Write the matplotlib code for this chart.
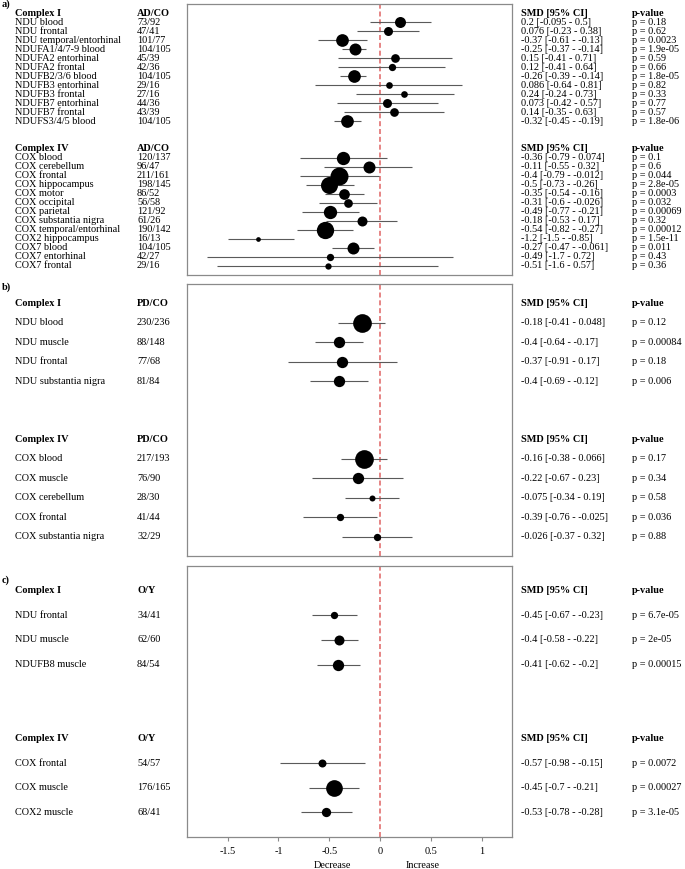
import matplotlib
matplotlib.use("Agg")
import matplotlib.pyplot as plt
import matplotlib.transforms as mtransforms

# ---------------- data ----------------
# Panel a (AD/CO)
a_c1_labels = ["NDU blood", "NDU frontal", "NDU temporal/entorhinal", "NDUFA1/4/7-9 blood",
               "NDUFA2 entorhinal", "NDUFA2 frontal", "NDUFB2/3/6 blood", "NDUFB3 entorhinal",
               "NDUFB3 frontal", "NDUFB7 entorhinal", "NDUFB7 frontal", "NDUFS3/4/5 blood"]
a_c1_n = ["73/92", "47/41", "101/77", "104/105", "45/39", "42/36", "104/105", "29/16",
          "27/16", "44/36", "43/39", "104/105"]
a_c1_smd = [0.2, 0.076, -0.37, -0.25, 0.15, 0.12, -0.26, 0.086, 0.24, 0.073, 0.14, -0.32]
a_c1_lo = [-0.095, -0.23, -0.61, -0.37, -0.41, -0.41, -0.39, -0.64, -0.24, -0.42, -0.35, -0.45]
a_c1_hi = [0.5, 0.38, -0.13, -0.14, 0.71, 0.64, -0.14, 0.81, 0.73, 0.57, 0.63, -0.19]
a_c1_p = [0.18, 0.62, 0.0023, 1.9e-05, 0.59, 0.66, 1.8e-05, 0.82, 0.33, 0.77, 0.57, 1.8e-06]
a_c1_w = [11, 9, 12.7, 12, 8.7, 7.3, 12.7, 6.7, 6.7, 9, 8.7, 12.7]

a_c4_labels = ["COX blood", "COX cerebellum", "COX frontal", "COX hippocampus", "COX motor",
               "COX occipital", "COX parietal", "COX substantia nigra", "COX temporal/entorhinal",
               "COX2 hippocampus", "COX7 blood", "COX7 entorhinal", "COX7 frontal"]
a_c4_n = ["120/137", "96/47", "211/161", "198/145", "86/52", "56/58", "121/92", "61/26",
          "190/142", "16/13", "104/105", "42/27", "29/16"]
a_c4_smd = [-0.36, -0.11, -0.4, -0.5, -0.35, -0.31, -0.49, -0.18, -0.54, -1.2, -0.27, -0.49, -0.51]
a_c4_lo = [-0.79, -0.55, -0.79, -0.73, -0.54, -0.6, -0.77, -0.53, -0.82, -1.5, -0.47, -1.7, -1.6]
a_c4_hi = [0.074, 0.32, -0.012, -0.26, -0.16, -0.026, -0.21, 0.17, -0.27, -0.85, -0.061, 0.72, 0.57]
a_c4_p = [0.1, 0.6, 0.044, 2.8e-05, 0.0003, 0.032, 0.00069, 0.32, 0.00012, 1.5e-11, 0.011, 0.43, 0.36]
a_c4_w = [13.3, 12, 18, 17, 10.7, 8.7, 13.3, 10, 17.3, 4.7, 12, 7.3, 6.3]

# Panel b (PD/CO)
b_c1_labels = ["NDU blood", "NDU muscle", "NDU frontal", "NDU substantia nigra"]
b_c1_n = ["230/236", "88/148", "77/68", "81/84"]
b_c1_smd = [-0.18, -0.4, -0.37, -0.4]
b_c1_lo = [-0.41, -0.64, -0.91, -0.69]
b_c1_hi = [0.048, -0.17, 0.17, -0.12]
b_c1_p = [0.12, 0.00084, 0.18, 0.006]
b_c1_w = [18.7, 11.3, 11.3, 11.3]

b_c4_labels = ["COX blood", "COX muscle", "COX cerebellum", "COX frontal", "COX substantia nigra"]
b_c4_n = ["217/193", "76/90", "28/30", "41/44", "32/29"]
b_c4_smd = [-0.16, -0.22, -0.075, -0.39, -0.026]
b_c4_lo = [-0.38, -0.67, -0.34, -0.76, -0.37]
b_c4_hi = [0.066, 0.23, 0.19, -0.025, 0.32]
b_c4_p = [0.17, 0.34, 0.58, 0.036, 0.88]
b_c4_w = [18.7, 11.3, 6, 7.3, 7.3]

# Panel c (O/Y)
c_c1_labels = ["NDU frontal", "NDU muscle", "NDUFB8 muscle"]
c_c1_n = ["34/41", "62/60", "84/54"]
c_c1_smd = [-0.45, -0.4, -0.41]
c_c1_lo = [-0.67, -0.58, -0.62]
c_c1_hi = [-0.23, -0.22, -0.2]
c_c1_p = [6.7e-05, 2e-05, 0.00015]
c_c1_w = [7.3, 10, 11.3]

c_c4_labels = ["COX frontal", "COX muscle", "COX2 muscle"]
c_c4_n = ["54/57", "176/165", "68/41"]
c_c4_smd = [-0.57, -0.45, -0.53]
c_c4_lo = [-0.98, -0.7, -0.78]
c_c4_hi = [-0.15, -0.21, -0.28]
c_c4_p = [0.0072, 0.00027, 3.1e-05]
c_c4_w = [8, 16.7, 9.3]

x_ticks = [-1.5, -1, -0.5, 0, 0.5, 1]
x_ticklabels = ["-1.5", "-1", "-0.5", "0", "0.5", "1"]

# ---------------- figure ----------------
W, H = 685, 869
plt.rcParams['font.family'] = ['Liberation Serif', 'DejaVu Serif']
FS = 7.4
fig = plt.figure(figsize=(W / 100, H / 100), dpi=100)

def px_box(x0, y0, x1, y1):
    return [x0 / W, 1 - y1 / H, (x1 - x0) / W, (y1 - y0) / H]

panels = [
    dict(tag="a)", tag_y=4, box=px_box(187, 4, 512, 275), grp="AD/CO",
         groups=[("Complex I", a_c1_labels, a_c1_n, a_c1_smd, a_c1_lo, a_c1_hi, a_c1_p, a_c1_w),
                 ("Complex IV", a_c4_labels, a_c4_n, a_c4_smd, a_c4_lo, a_c4_hi, a_c4_p, a_c4_w)],
         gap=2),
    dict(tag="b)", tag_y=287, box=px_box(187, 284, 512, 556), grp="PD/CO",
         groups=[("Complex I", b_c1_labels, b_c1_n, b_c1_smd, b_c1_lo, b_c1_hi, b_c1_p, b_c1_w),
                 ("Complex IV", b_c4_labels, b_c4_n, b_c4_smd, b_c4_lo, b_c4_hi, b_c4_p, b_c4_w)],
         gap=2),
    dict(tag="c)", tag_y=580, box=px_box(187, 566, 512, 837), grp="O/Y",
         groups=[("Complex I", c_c1_labels, c_c1_n, c_c1_smd, c_c1_lo, c_c1_hi, c_c1_p, c_c1_w),
                 ("Complex IV", c_c4_labels, c_c4_n, c_c4_smd, c_c4_lo, c_c4_hi, c_c4_p, c_c4_w)],
         gap=2),
]

X_LABEL, X_N, X_SMD, X_P = 15, 137, 521, 632
frame_col = "#8a8a8a"

for pi, P in enumerate(panels):
    ax = fig.add_axes(P["box"])
    tr = mtransforms.blended_transform_factory(fig.transFigure, ax.transData)
    slot = 0
    for gname, labels, ns, smd, lo, hi, pv, wt in P["groups"]:
        # header
        ax.text(X_LABEL / W, slot, gname, transform=tr, fontsize=FS, fontweight='bold', va='center', ha='left')
        ax.text(X_N / W, slot, P["grp"], transform=tr, fontsize=FS, fontweight='bold', va='center', ha='left')
        ax.text(X_SMD / W, slot, "SMD [95% CI]", transform=tr, fontsize=FS, fontweight='bold', va='center', ha='left')
        ax.text(X_P / W, slot, "p-value", transform=tr, fontsize=FS, fontweight='bold', va='center', ha='left')
        slot += 1
        for i in range(len(labels)):
            y = slot
            ax.plot([lo[i], hi[i]], [y, y], color="#5a5a5a", lw=0.8, solid_capstyle='butt', zorder=2)
            ax.plot([smd[i]], [y], 'o', color='black', ms=wt[i] * 0.72, mew=0, zorder=3)
            ax.text(X_LABEL / W, y, labels[i], transform=tr, fontsize=FS, va='center', ha='left')
            ax.text(X_N / W, y, ns[i], transform=tr, fontsize=FS, va='center', ha='left')
            ax.text(X_SMD / W, y, f"{smd[i]:g} [{lo[i]:g} - {hi[i]:g}]", transform=tr,
                    fontsize=FS, va='center', ha='left')
            ax.text(X_P / W, y, f"p = {pv[i]:g}", transform=tr, fontsize=FS, va='center', ha='left')
            slot += 1
        slot += P["gap"]
    last = slot - P["gap"] - 1
    ax.set_ylim(last + 1, -1)
    ax.set_xlim(-1.9, 1.3)
    ax.axvline(0, color="#e27070", lw=1.2, dashes=(3, 1.7), zorder=1)
    for s in ax.spines.values():
        s.set_color(frame_col)
        s.set_linewidth(0.9)
    ax.set_yticks([])
    ax.set_xticks(x_ticks)
    if pi == 2:
        ax.set_xticklabels(x_ticklabels, fontsize=FS)
        ax.tick_params(axis='x', direction='out', length=3, color=frame_col, pad=4)
        fig.text(332 / W, 1 - 865 / H, "Decrease", fontsize=FS, ha='center', va='center')
        fig.text(423 / W, 1 - 865 / H, "Increase", fontsize=FS, ha='center', va='center')
    else:
        ax.set_xticklabels([])
        ax.tick_params(axis='x', length=0)
    fig.text(2 / W, 1 - P["tag_y"] / H, P["tag"], fontsize=FS, fontweight='bold', ha='left', va='center')

fig.savefig("out.png", dpi=100)
